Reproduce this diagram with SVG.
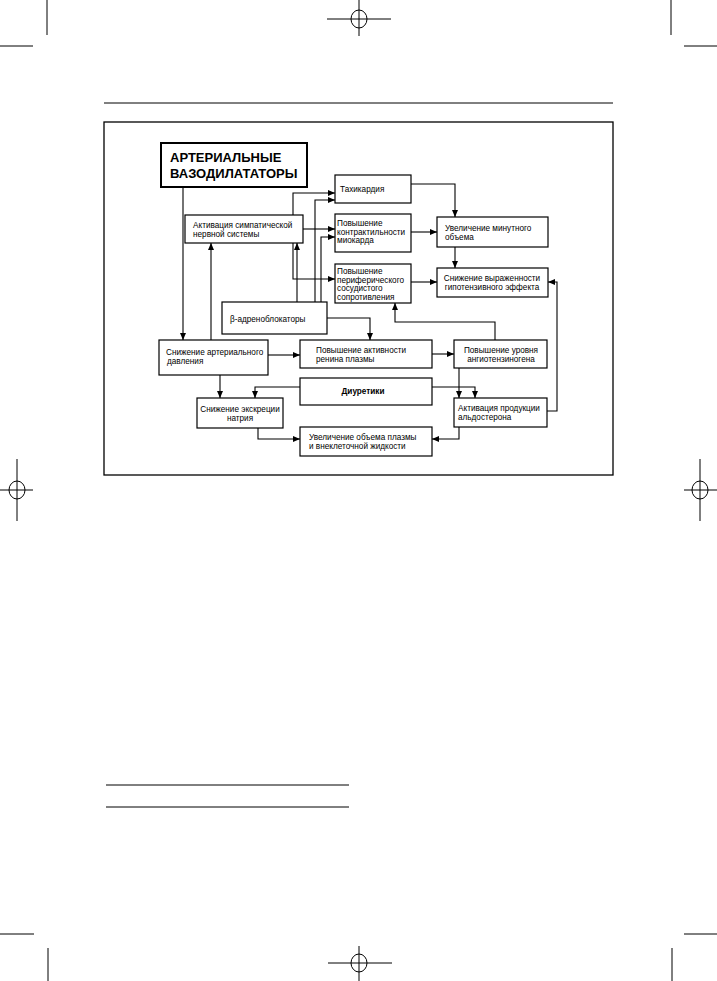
<svg xmlns="http://www.w3.org/2000/svg" width="717" height="981" viewBox="0 0 717 981">
<style>
.bx{fill:#fff;stroke:#000;stroke-width:1.2}
.tb{fill:#fff;stroke:#000;stroke-width:2}
.t{font-family:"Liberation Sans",Arial,sans-serif;font-size:8.2px;fill:#000}
.c{text-anchor:middle}
.bt{font-family:"Liberation Sans",Arial,sans-serif;font-size:13px;font-weight:bold;fill:#000}
.bd{font-family:"Liberation Sans",Arial,sans-serif;font-size:8.2px;font-weight:bold;fill:#000;text-anchor:middle}
.ln{fill:none;stroke:#000;stroke-width:1.1}
.mk{fill:none;stroke:#000;stroke-width:1}
</style>
<defs>
<marker id="ah" markerUnits="userSpaceOnUse" markerWidth="8" markerHeight="6" refX="7" refY="3" orient="auto">
<path d="M0,0 L7,3 L0,6 z" fill="#000"/>
</marker>
</defs>
<rect width="717" height="981" fill="#fff"/>
<g id="page-marks">
<line class="mk" x1="47" y1="0" x2="47" y2="35"/>
<line class="mk" x1="0" y1="46" x2="33" y2="46"/>
<line class="mk" x1="671" y1="0" x2="671" y2="35"/>
<line class="mk" x1="684" y1="46" x2="717" y2="46"/>
<ellipse class="mk" cx="359" cy="19" rx="8" ry="9"/>
<line class="mk" x1="327" y1="19" x2="391" y2="19"/>
<line class="mk" x1="359" y1="0" x2="359" y2="36"/>
<ellipse class="mk" cx="17" cy="490" rx="8" ry="9"/>
<line class="mk" x1="0" y1="490" x2="33" y2="490"/>
<line class="mk" x1="17" y1="459" x2="17" y2="521"/>
<ellipse class="mk" cx="700" cy="490" rx="8" ry="9"/>
<line class="mk" x1="684" y1="490" x2="717" y2="490"/>
<line class="mk" x1="700" y1="459" x2="700" y2="521"/>
<line class="mk" x1="0" y1="934" x2="34" y2="934"/>
<line class="mk" x1="48" y1="948" x2="48" y2="981"/>
<line class="mk" x1="684" y1="934" x2="717" y2="934"/>
<line class="mk" x1="672" y1="948" x2="672" y2="981"/>
<ellipse class="mk" cx="359" cy="963" rx="8" ry="9"/>
<line class="mk" x1="328" y1="963" x2="392" y2="963"/>
<line class="mk" x1="359" y1="946" x2="359" y2="981"/>
<line class="mk" x1="104" y1="103" x2="613" y2="103" stroke-width="1.3"/>
<line class="mk" x1="106" y1="785" x2="349" y2="785" stroke-width="1.3"/>
<line class="mk" x1="106" y1="807" x2="349" y2="807" stroke-width="1.3"/>
<rect x="104" y="122" width="509" height="353" fill="none" stroke="#000" stroke-width="1.3"/>
</g>
<g id="connectors" class="ln">
<path marker-end="url(#ah)" d="M183,187 V340"/>
<path marker-end="url(#ah)" d="M211,340 V243"/>
<path marker-end="url(#ah)" d="M297,302 V243"/>
<path marker-end="url(#ah)" d="M293,215 V193 H335"/>
<path marker-end="url(#ah)" d="M315,302 V200 H335"/>
<path marker-end="url(#ah)" d="M303,229 H335"/>
<path marker-end="url(#ah)" d="M321,302 V237 H335"/>
<path marker-end="url(#ah)" d="M293,243 V279 H335"/>
<path marker-end="url(#ah)" d="M411,184 H455 V217"/>
<path marker-end="url(#ah)" d="M411,232 H437"/>
<path marker-end="url(#ah)" d="M455,247 V268"/>
<path marker-end="url(#ah)" d="M411,282 H437"/>
<path marker-end="url(#ah)" d="M327,318 H370 V340"/>
<path marker-end="url(#ah)" d="M268,355 H300"/>
<path marker-end="url(#ah)" d="M432,354 H454"/>
<path marker-end="url(#ah)" d="M495,340 V322 H395 V303"/>
<path marker-end="url(#ah)" d="M459,368 V398"/>
<path marker-end="url(#ah)" d="M432,387 H475 V398"/>
<path marker-end="url(#ah)" d="M300,387 H255 V398"/>
<path marker-end="url(#ah)" d="M220,375 V398"/>
<path marker-end="url(#ah)" d="M258,428 V439 H300"/>
<path marker-end="url(#ah)" d="M459,427 V439 H432"/>
<path marker-end="url(#ah)" d="M547,411 H557 V282 H548"/>
</g>
<g id="vasodilators">
<rect class="tb" x="161" y="143" width="146" height="44"/>
<text class="bt" x="170" y="162">АРТЕРИАЛЬНЫЕ</text>
<text class="bt" x="170" y="178">ВАЗОДИЛАТАТОРЫ</text>
</g>
<g id="sympathetic">
<rect class="bx" x="185" y="215" width="118" height="28"/>
<text class="t" x="193" y="228">Активация симпатической</text>
<text class="t" x="193" y="237">нервной системы</text>
</g>
<g id="tachycardia">
<rect class="bx" x="335" y="175" width="76" height="28"/>
<text class="t" x="340" y="192">Тахикардия</text>
</g>
<g id="contractility">
<rect class="bx" x="335" y="214" width="76" height="38"/>
<text class="t" x="337" y="226">Повышение</text>
<text class="t" x="337" y="234.5">контрактильности</text>
<text class="t" x="337" y="243">миокарда</text>
</g>
<g id="resistance">
<rect class="bx" x="335" y="264" width="76" height="39"/>
<text class="t" x="337" y="274">Повышение</text>
<text class="t" x="337" y="282.5">периферического</text>
<text class="t" x="337" y="291">сосудистого</text>
<text class="t" x="337" y="299.5">сопротивления</text>
</g>
<g id="cardiac-output">
<rect class="bx" x="437" y="217" width="111" height="30"/>
<text class="t" x="445" y="231">Увеличение минутного</text>
<text class="t" x="445" y="240">объема</text>
</g>
<g id="reduced-effect">
<rect class="bx" x="437" y="268" width="111" height="29"/>
<text class="t c" x="492" y="281">Снижение выраженности</text>
<text class="t c" x="492" y="290">гипотензивного эффекта</text>
</g>
<g id="beta-blockers">
<rect class="bx" x="222" y="302" width="105" height="32"/>
<text class="t" x="230" y="322">β-адреноблокаторы</text>
</g>
<g id="bp-decrease">
<rect class="bx" x="159" y="340" width="109" height="35"/>
<text class="t" x="166" y="355">Снижение артериального</text>
<text class="t" x="167" y="364">давления</text>
</g>
<g id="renin">
<rect class="bx" x="300" y="340" width="132" height="28"/>
<text class="t" x="316" y="353">Повышение активности</text>
<text class="t" x="316" y="362">ренина плазмы</text>
</g>
<g id="angiotensinogen">
<rect class="bx" x="454" y="340" width="93" height="28"/>
<text class="t c" x="501" y="353">Повышение уровня</text>
<text class="t c" x="501" y="362">ангиотензиногена</text>
</g>
<g id="diuretics">
<rect class="bx" x="300" y="378" width="132" height="27"/>
<text class="bd" x="363" y="394">Диуретики</text>
</g>
<g id="aldosterone">
<rect class="bx" x="454" y="398" width="93" height="29"/>
<text class="t" x="458" y="411">Активация продукции</text>
<text class="t" x="458" y="420">альдостерона</text>
</g>
<g id="sodium">
<rect class="bx" x="197" y="398" width="86" height="30"/>
<text class="t c" x="240" y="412">Снижение экскреции</text>
<text class="t c" x="240" y="421">натрия</text>
</g>
<g id="volume">
<rect class="bx" x="300" y="427" width="132" height="29"/>
<text class="t" x="309" y="440">Увеличение объема плазмы</text>
<text class="t" x="309" y="449">и внеклеточной жидкости</text>
</g>
</svg>
